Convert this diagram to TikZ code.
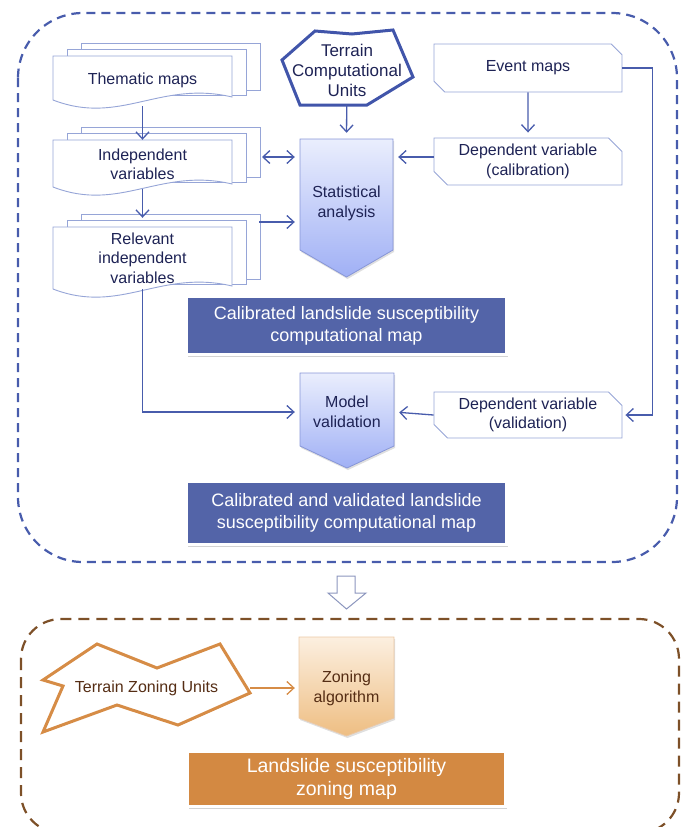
\documentclass[tikz,border=0pt]{standalone}
\usepackage{fontspec}
\setmainfont{Liberation Sans}
\usetikzlibrary{positioning, calc, shapes.misc, shadows, arrows.meta}

\definecolor{navytext}{RGB}{30,35,85}
\definecolor{docedge}{RGB}{150,165,215}
\definecolor{flowblue}{RGB}{72,92,172}
\definecolor{mapblue}{RGB}{83,100,168}
\definecolor{platetop}{RGB}{234,238,253}
\definecolor{platebot}{RGB}{160,176,245}
\definecolor{plateedge}{RGB}{135,150,215}
\definecolor{tcuedge}{RGB}{65,85,170}
\definecolor{zonetop}{RGB}{252,239,224}
\definecolor{zonebot}{RGB}{238,190,130}
\definecolor{zoneedge}{RGB}{235,200,165}
\definecolor{zonefill}{RGB}{211,137,66}
\definecolor{zoneline}{RGB}{214,140,70}
\definecolor{brownframe}{RGB}{125,80,40}
\definecolor{browntext}{RGB}{85,45,20}
\definecolor{hollowedge}{RGB}{140,150,190}

\tikzset{
  docline/.style={draw=docedge, line width=0.9pt, fill=white},
  doc/.style={align=center, text=navytext, minimum width=179pt, inner sep=0pt,
    font=\fontsize{16}{19.5}\selectfont},
  snip/.style={chamfered rectangle, chamfered rectangle corners={north east, south west},
    chamfered rectangle xsep=10pt, draw=docedge, line width=0.9pt, fill=white,
    minimum width=188pt, align=center, text=navytext, inner sep=0pt,
    font=\fontsize{16}{19.5}\selectfont},
  plate/.style={draw=plateedge, line width=0.8pt, top color=platetop, bottom color=platebot,
    drop shadow={shadow xshift=1pt, shadow yshift=-2pt, opacity=0.25, fill=black!50}},
  zoneplate/.style={draw=zoneedge, line width=0.8pt, top color=zonetop, bottom color=zonebot,
    drop shadow={shadow xshift=1pt, shadow yshift=-2pt, opacity=0.25, fill=black!50}},
  platetext/.style={align=center, text=navytext, inner sep=0pt, font=\fontsize{16}{20}\selectfont},
  mapbox/.style={fill=mapblue, draw=white, line width=3pt, text=white, align=center, inner sep=0pt,
    font=\fontsize{18}{22}\selectfont,
    drop shadow={shadow xshift=1pt, shadow yshift=-2.5pt, opacity=0.35, fill=black!50}},
  flow/.style={draw=flowblue, line width=1.3pt, -{Straight Barb[length=7pt,width=13pt]}},
  zoneflow/.style={draw=zoneline, line width=1.3pt, -{Straight Barb[length=7pt,width=13pt]}}
}

\begin{document}
\begin{tikzpicture}[x=1pt, y=-1pt]
  \useasboundingbox (0,0) rectangle (684,827);

  % frames
  \draw[flowblue, line width=2.2pt, dash pattern=on 9pt off 6pt, rounded corners=65pt]
    (18,13) rectangle (677,562);
  \draw[brownframe, line width=2.2pt, dash pattern=on 11pt off 7pt, rounded corners=40pt]
    (21,619) rectangle (679,833);

  % stacked documents
  \foreach \top/\bot in {56/100, 140/187, 227/289} {
    \foreach \k in {2,1}
      \draw[docline] (53+14*\k,\top-6.5*\k) rectangle (232+14*\k,\bot-5*\k);
    \draw[docline] (53,\top) -- (232,\top) -- (232,\bot-3)
      .. controls (160,\bot-20) and (120,\bot+26) .. (53,\bot) -- cycle;
  }
  \node[doc, minimum height=52pt] (thematic) at (142.5,80) {Thematic maps};
  \node[doc, minimum height=49pt] (indep) at (142.5,164.5) {Independent\\variables};
  \node[doc, minimum height=62pt] (relevant) at (142.5,258) {Relevant\\independent\\variables};
  \coordinate (indep-r) at (262,157);
  \coordinate (relevant-r) at (259,222);

  % terrain computational units
  \draw[tcuedge, line width=3pt, fill=white]
    (315,31) -- (352,34) -- (393,30) -- (413,77) -- (367,105) -- (300,105) -- (282,60) -- cycle;
  \node[platetext, font=\fontsize{17}{20}\selectfont, minimum height=70pt] (tcu) at (347,70)
    {Terrain\\Computational\\Units};

  % event maps and dependent variables
  \node[snip, minimum height=48pt] (events) at (528,68) {Event maps};
  \node[snip, minimum height=47pt] (depcal) at (528,161.5) {Dependent variable\\(calibration)};
  \node[snip, minimum height=46pt] (depval) at (528,415) {Dependent variable\\(validation)};

  % statistical analysis and model validation
  \shade[plate] (300,139) -- (393,139) -- (393,250) -- (346.5,277) -- (300,250) -- cycle;
  \node[platetext, minimum width=93pt, minimum height=128pt] (stat) at (346.5,203)
    {Statistical\\analysis};
  \shade[plate] (300,373) -- (394,373) -- (394,446) -- (347,468) -- (300,446) -- cycle;
  \node[platetext, minimum width=94pt] (model) at (347,412) {Model\\validation};

  % output maps
  \node[mapbox, minimum width=320pt, minimum height=58pt] (calmap) at (346.5,325.5)
    {Calibrated landslide susceptibility\\computational map};
  \node[mapbox, minimum width=320pt, minimum height=63pt] (valmap) at (346.5,513)
    {Calibrated and validated landslide\\susceptibility computational map};

  % connectors
  \draw[flow] (thematic) -- (indep);
  \draw[flow, shorten >=9pt] (indep) -- (relevant);
  \draw[flow, shorten >=6pt] (tcu) -- (stat.north);
  \draw[flow, {Straight Barb[length=7pt,width=13pt]}-{Straight Barb[length=7pt,width=13pt]},
    shorten >=5pt] (indep-r) -- (stat.west |- indep-r);
  \draw[flow, shorten >=5pt] (relevant-r) -- (stat.west |- relevant-r);
  \draw[flow, shorten >=5pt] ([yshift=4.5pt]depcal.west) -- (stat.east |- indep-r);
  \draw[flow, shorten >=5pt] (events) -- (depcal);
  \draw[flow, shorten >=3pt] (events.east) -- ++(30,0) |- (depval.east);
  \draw[flow, shorten >=5pt] (relevant.south) |- (model.west);
  \draw[flow, shorten >=5pt] (depval.west) -- (model.east);

  % hollow arrow between the two parts
  \draw[hollowedge, line width=1pt, fill=white, line join=miter]
    (337,576) -- (355,576) -- (355,593) -- (366,593) -- (346.5,609) -- (328,593) -- (337,593) -- cycle;

  % zoning part
  \draw[zoneline, line width=3pt, fill=white]
    (97,644) -- (157,668) -- (220,644) -- (250,693) -- (178,725) -- (117,705) -- (43,732)
    -- (63,686) -- (43,680) -- cycle;
  \node[platetext, text=browntext, minimum width=207pt] (tzu) at (146.5,688) {Terrain Zoning Units};
  \shade[zoneplate] (299,637) -- (394,637) -- (394,718) -- (346.5,736) -- (299,718) -- cycle;
  \node[platetext, text=browntext, minimum width=95pt] (zoning) at (346.5,688) {Zoning\\algorithm};
  \draw[zoneflow, shorten >=4pt] (tzu.east) -- (zoning.west);
  \node[mapbox, fill=zonefill, font=\fontsize{19.5}{23}\selectfont, minimum width=318pt,
    minimum height=55pt] (zonemap) at (346.5,779) {Landslide susceptibility\\zoning map};
\end{tikzpicture}
\end{document}
